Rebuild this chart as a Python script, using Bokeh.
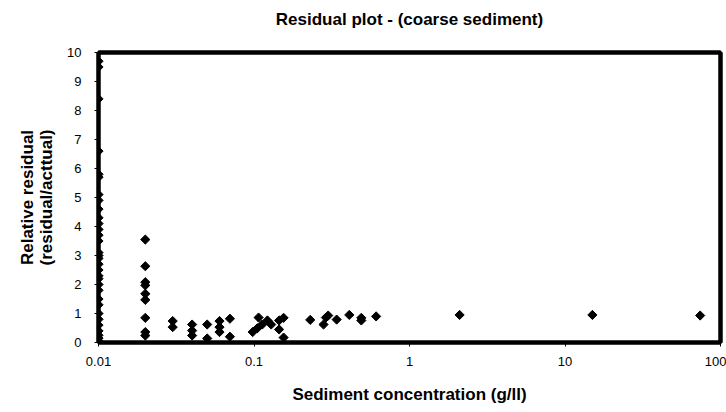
import math
from bokeh.plotting import figure
from bokeh.embed import file_html
from bokeh.resources import INLINE
from bokeh.models import FixedTicker, ColumnDataSource, LogAxis, LinearAxis

# Data
conc_001 = [0.01] * 32
resid_001 = [9.7, 9.5, 8.4, 6.6, 5.8, 5.7, 5.1, 4.9, 4.6, 4.3, 4.1, 3.9, 3.7,
             3.5, 3.1, 3.0, 2.9, 2.7, 2.5, 2.3, 2.2, 2.0, 1.8, 1.5, 1.3, 1.0,
             0.8, 0.6, 0.4, 0.25, 0.15, 0.05]
conc_other = [0.02, 0.02, 0.02, 0.02, 0.02, 0.02, 0.02, 0.02, 0.02,
              0.03, 0.03,
              0.04, 0.04, 0.04,
              0.05, 0.05,
              0.06, 0.06, 0.06,
              0.07, 0.07,
              0.098, 0.105, 0.107, 0.113, 0.122, 0.129, 0.145, 0.145, 0.155, 0.155,
              0.23, 0.28, 0.29, 0.30, 0.34, 0.41, 0.49, 0.49, 0.61,
              2.1, 15.0, 74.0]
resid_other = [3.55, 2.63, 2.08, 1.97, 1.68, 1.47, 0.85, 0.36, 0.24,
               0.74, 0.53,
               0.62, 0.41, 0.24,
               0.62, 0.14,
               0.74, 0.53, 0.36,
               0.82, 0.20,
               0.36, 0.49, 0.86, 0.62, 0.76, 0.62, 0.45, 0.76, 0.85, 0.17,
               0.78, 0.62, 0.86, 0.93, 0.79, 0.95, 0.76, 0.85, 0.90,
               0.95, 0.95, 0.93]

x_ticks = [0.01, 0.1, 1, 10, 100]
x_tick_labels = {0.01: "0.01", 0.1: "0.1", 1: "1", 10: "10", 100: "100"}
y_ticks = list(range(0, 11))
title_text = "Residual plot - (coarse sediment)"

conc = conc_001 + conc_other
resid = resid_001 + resid_other
src = ColumnDataSource(dict(x=conc, y=resid))

FONT = "Liberation Sans"

p = figure(width=726, height=412, x_axis_type="log",
           x_range=(0.01, 100), y_range=(0, 10),
           output_backend="svg", toolbar_location=None,
           min_border_left=98, min_border_right=6, min_border_top=52, min_border_bottom=70)

xax = p.xaxis[0]
yax = p.yaxis[0]

p.scatter("x", "y", source=src, marker="square", angle=math.pi / 4,
          size=6.5, color="black")

p.xgrid.visible = False
p.ygrid.visible = False
p.outline_line_color = "black"
p.outline_line_width = 4

# top axis carries the chart title as its label
top_axis = LogAxis(ticker=FixedTicker(ticks=[]), major_tick_line_color=None,
                   minor_tick_line_color=None, axis_line_width=4,
                   axis_line_color="black", axis_label=title_text,
                   axis_label_text_font=FONT, axis_label_text_font_size="17px",
                   axis_label_text_font_style="bold", axis_label_text_color="black",
                   axis_label_standoff=24)
right_axis = LinearAxis(ticker=FixedTicker(ticks=[]), major_tick_line_color=None,
                        minor_tick_line_color=None, axis_line_width=4,
                        axis_line_color="black")
p.add_layout(top_axis, "above")
p.add_layout(right_axis, "right")

xax.ticker = FixedTicker(ticks=x_ticks)
xax.major_label_overrides = x_tick_labels
yax.ticker = FixedTicker(ticks=y_ticks)

for ax in (xax, yax):
    ax.axis_line_color = "black"
    ax.axis_line_width = 4
    ax.major_tick_line_color = "black"
    ax.major_tick_out = 4
    ax.major_tick_in = 0
    ax.minor_tick_line_color = None
    ax.major_label_text_font = FONT
    ax.major_label_text_font_size = "13px"
    ax.major_label_text_color = "black"
    ax.axis_label_text_font = FONT
    ax.axis_label_text_font_size = "17px"
    ax.axis_label_text_font_style = "bold"
    ax.axis_label_text_color = "black"

xax.axis_label = "Sediment concentration (g/ll)"
yax.axis_label = "Relative residual\n(residual/acttual)"
yax.axis_label_text_line_height = 1.0
xax.major_label_standoff = 10
xax.axis_label_standoff = 16
yax.major_label_standoff = 13
yax.axis_label_standoff = 8

open("out.html", "w").write(file_html(p, INLINE))
